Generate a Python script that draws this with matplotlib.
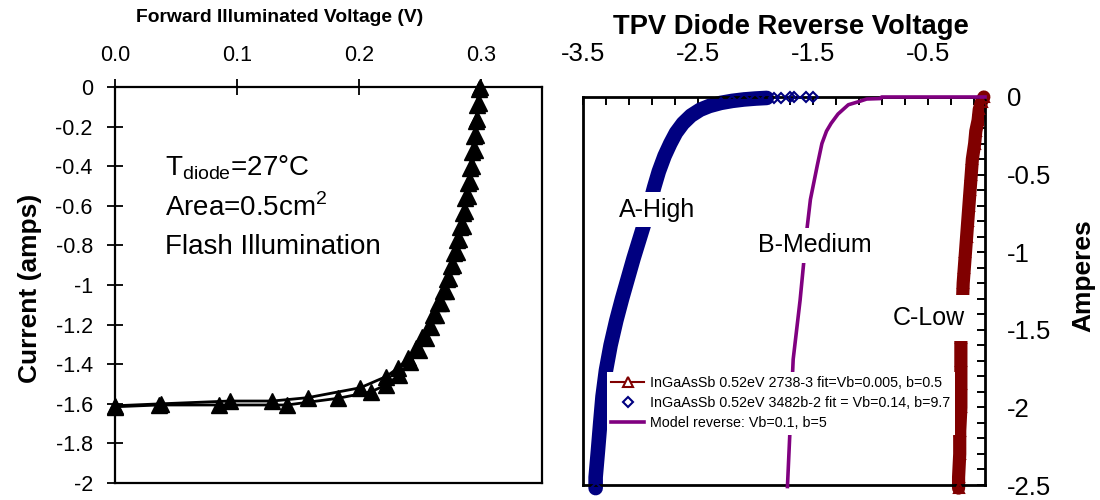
import matplotlib
matplotlib.use("Agg")
import matplotlib.pyplot as plt
from matplotlib.ticker import MultipleLocator, FixedLocator, FuncFormatter

plt.rcParams['font.family'] = ['Liberation Sans', 'DejaVu Sans']
plt.rcParams['axes.unicode_minus'] = False
plt.rcParams['mathtext.fontset'] = 'custom'
plt.rcParams['mathtext.rm'] = 'Liberation Sans'

# ---- Forward illuminated I-V, two flash sweeps ----
fwd_a_v = [0.000, 0.038, 0.094, 0.129, 0.158, 0.201, 0.222, 0.232, 0.240, 0.247,
           0.252, 0.257, 0.261, 0.265, 0.269, 0.272, 0.275, 0.278, 0.280, 0.283,
           0.285, 0.287, 0.289, 0.291, 0.293, 0.294, 0.296, 0.297, 0.298]
fwd_a_i = [-1.610, -1.600, -1.586, -1.586, -1.569, -1.519, -1.463, -1.420, -1.370, -1.320,
           -1.265, -1.205, -1.150, -1.090, -1.030, -0.970, -0.905, -0.840, -0.775, -0.705,
           -0.635, -0.560, -0.485, -0.410, -0.330, -0.250, -0.170, -0.090, -0.010]
fwd_b_v = [0.000, 0.036, 0.085, 0.141, 0.183, 0.210, 0.222, 0.233, 0.242, 0.249,
           0.255, 0.259, 0.263, 0.267, 0.271, 0.274, 0.277, 0.280, 0.282, 0.285,
           0.287, 0.289, 0.291, 0.293, 0.295, 0.296, 0.297, 0.298, 0.299]
fwd_b_i = [-1.615, -1.606, -1.606, -1.606, -1.572, -1.539, -1.505, -1.455, -1.390, -1.330,
           -1.270, -1.210, -1.150, -1.090, -1.030, -0.965, -0.900, -0.835, -0.770, -0.700,
           -0.625, -0.550, -0.475, -0.400, -0.320, -0.240, -0.160, -0.080, 0.000]

# ---- Reverse I-V of the TPV diodes ----
low_v = [-0.01, -0.03, -0.05, -0.06, -0.08, -0.09, -0.11, -0.12, -0.13, -0.14,
         -0.15, -0.16, -0.17, -0.18, -0.19, -0.20, -0.21, -0.21, -0.21, -0.21,
         -0.22, -0.22, -0.23, -0.23]
low_i = [0.00, -0.03, -0.08, -0.15, -0.22, -0.30, -0.40, -0.50, -0.60, -0.70,
         -0.80, -0.90, -1.00, -1.10, -1.20, -1.40, -1.55, -1.70, -1.85, -2.00,
         -2.15, -2.30, -2.45, -2.52]

high_v = [-1.50, -1.56, -1.66, -1.70, -1.78, -1.84, -1.90, -2.00, -2.10, -2.20,
          -2.30, -2.40, -2.48, -2.56, -2.63, -2.69, -2.74, -2.79, -2.84, -2.88,
          -2.92, -2.96, -3.01, -3.06, -3.11, -3.16, -3.21, -3.26, -3.30, -3.33,
          -3.35, -3.37, -3.39, -3.39]
high_i = [0.000, 0.000, -0.002, -0.002, -0.004, -0.005, -0.006, -0.010, -0.016, -0.025,
          -0.038, -0.058, -0.082, -0.120, -0.170, -0.230, -0.300, -0.380, -0.480, -0.580,
          -0.690, -0.800, -0.920, -1.040, -1.170, -1.300, -1.440, -1.600, -1.760, -1.930,
          -2.100, -2.280, -2.450, -2.520]
high_sparse = 6  # first few readings near 0 A are isolated points

model_v = [0.00, -0.90, -0.91, -1.03, -1.10, -1.19, -1.28, -1.34, -1.38, -1.42,
           -1.46, -1.49, -1.52, -1.55, -1.58, -1.61, -1.67, -1.72]
model_i = [0.000, 0.000, -0.010, -0.013, -0.030, -0.050, -0.110, -0.170, -0.220, -0.300,
           -0.440, -0.550, -0.660, -0.850, -1.080, -1.310, -1.690, -2.510]

RED = '#800000'
NAVY = '#000080'
PURPLE = '#800080'


def num_fmt(v, _pos):
    v = round(v, 2)
    return '0' if abs(v) < 1e-9 else '%g' % v


fig = plt.figure(figsize=(11, 5), dpi=100)

# ---------------- left panel ----------------
ax1 = fig.add_axes([115 / 1100, 17 / 500, 427 / 1100, 396 / 500])
for s in ax1.spines.values():
    s.set_linewidth(1.6)
ax1.plot(fwd_a_v, fwd_a_i, color='black', lw=2, marker='^', ms=11,
         clip_on=False, zorder=3)
ax1.plot(fwd_b_v, fwd_b_i, color='black', lw=2, marker='^', ms=11,
         clip_on=False, zorder=3)
ax1.set_xlim(0, 0.35)
ax1.set_ylim(-2, 0)
ax1.xaxis.tick_top()
ax1.xaxis.set_major_locator(MultipleLocator(0.1))
ax1.xaxis.set_major_formatter(FuncFormatter(lambda v, p: '%.1f' % v))
ax1.yaxis.set_major_locator(MultipleLocator(0.2))
ax1.yaxis.set_major_formatter(FuncFormatter(num_fmt))
ax1.tick_params(axis='x', direction='inout', length=12, width=1.3,
                labelsize=15.5, pad=9)
ax1.tick_params(axis='y', direction='inout', length=12, width=1.3,
                labelsize=15.5, pad=10)

ax1.text(0.041, -0.444, r'T$_{\mathregular{diode}}$=27°C', fontsize=20)
ax1.text(0.041, -0.652, r'Area=0.5cm$^{\mathregular{2}}$', fontsize=20)
ax1.text(0.041, -0.843, 'Flash Illumination', fontsize=20)

fig.text(279.5 / 1100, 1 - 18 / 500, 'Forward Illuminated Voltage (V)',
         fontsize=13.9, fontweight='bold', ha='center', va='center')
fig.text(30 / 1100, 1 - 288 / 500, 'Current (amps)', fontsize=19,
         fontweight='bold', rotation=90, ha='center', va='center')

# ---------------- right panel ----------------
ax2 = fig.add_axes([583 / 1100, 15 / 500, 402 / 1100, 388 / 500])
for s in ax2.spines.values():
    s.set_linewidth(2)

# dense measured bands
ax2.plot(low_v, low_i, color=RED, lw=9.5, solid_capstyle='round',
         clip_on=False, zorder=2)
ax2.plot(high_v[high_sparse:], high_i[high_sparse:], color=NAVY, lw=10.5,
         solid_capstyle='round', clip_on=False, zorder=2)

ax2.plot(low_v, low_i, color=RED, lw=1.5, marker='^', ms=7, mfc='none',
         mec=RED, mew=1.5, clip_on=False, zorder=3,
         label='InGaAsSb 0.52eV 2738-3 fit=Vb=0.005, b=0.5')
ax2.plot(high_v, high_i, ls='none', marker='D', ms=5, mfc='none', mec=NAVY,
         mew=1.5, clip_on=False, zorder=3,
         label='InGaAsSb 0.52eV 3482b-2 fit = Vb=0.14, b=9.7')
ax2.plot(model_v, model_i, color=PURPLE, lw=2.6, clip_on=False, zorder=4,
         label='Model reverse: Vb=0.1, b=5')

ax2.set_xlim(-3.5, 0)
ax2.set_ylim(-2.5, 0)
ax2.xaxis.tick_top()
ax2.yaxis.tick_right()
ax2.xaxis.set_major_locator(FixedLocator([-3.5, -2.5, -1.5, -0.5]))
ax2.xaxis.set_minor_locator(MultipleLocator(0.2, offset=0.1))
ax2.xaxis.set_major_formatter(FuncFormatter(num_fmt))
ax2.yaxis.set_major_locator(MultipleLocator(0.5))
ax2.yaxis.set_minor_locator(MultipleLocator(0.1))
ax2.yaxis.set_major_formatter(FuncFormatter(num_fmt))
ax2.tick_params(axis='x', which='both', direction='in', length=6, width=1.4,
                labelsize=18.5, pad=22)
ax2.tick_params(axis='y', which='both', direction='in', length=6, width=1.4,
                labelsize=18.5, pad=16)

box = dict(facecolor='white', edgecolor='none', pad=4)
ax2.text(-2.854, -0.728, 'A-High', fontsize=18, ha='center', va='center',
         bbox=box, zorder=5)
ax2.text(-1.48, -0.954, 'B-Medium', fontsize=18, ha='center', va='center',
         bbox=box, zorder=5)
ax2.text(-0.49, -1.424, 'C-Low', fontsize=18, ha='center', va='center',
         bbox=dict(facecolor='white', edgecolor='none', pad=8), zorder=5)

leg = ax2.legend(loc='upper left', bbox_to_anchor=(0.06, 0.291),
                 borderaxespad=0, fontsize=10.3, frameon=True, fancybox=False,
                 framealpha=1, edgecolor='none', facecolor='white',
                 borderpad=0.3, handlelength=2.3, handletextpad=0.4,
                 labelspacing=0.42)
leg.set_zorder(6)
for h in leg.legend_handles:
    h.set_markerfacecolor('white')

fig.text(791 / 1100, 1 - 27 / 500, 'TPV Diode Reverse Voltage', fontsize=19.7,
         fontweight='bold', ha='center', va='center')
fig.text(1083 / 1100, 1 - 276 / 500, 'Amperes', fontsize=19,
         fontweight='bold', rotation=90, ha='center', va='center')

fig.savefig('out.png', dpi=100)
